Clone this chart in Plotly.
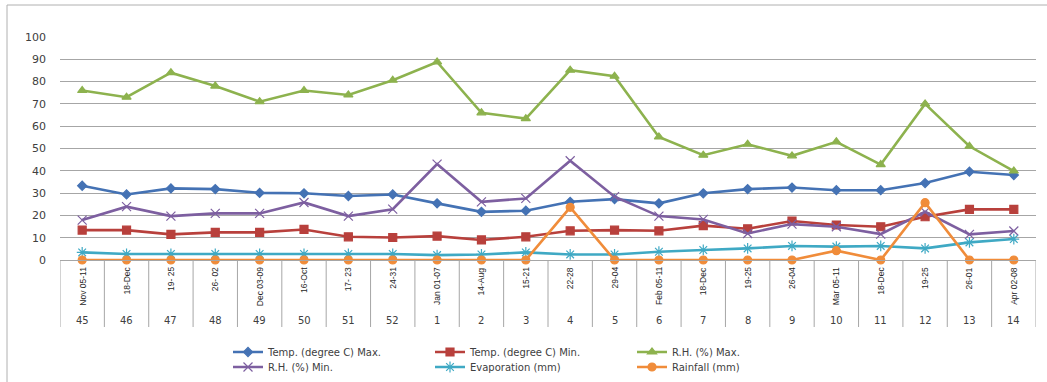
import plotly.graph_objects as go

dates = ["Nov 05-11", "18-Dec", "19- 25", "26- 02", "Dec 03-09", "16-Oct", "17- 23", "24-31",
         "Jan 01-07", "14-Aug", "15-21", "22-28", "29-04", "Feb 05-11", "18-Dec", "19-25",
         "26-04", "Mar 05-11", "18-Dec", "19-25", "26-01", "Apr 02-08"]
weeks = ["45", "46", "47", "48", "49", "50", "51", "52", "1", "2", "3", "4", "5", "6", "7",
         "8", "9", "10", "11", "12", "13", "14"]

temp_max = [33.3, 29.4, 32.1, 31.8, 30.1, 29.9, 28.7, 29.4, 25.4, 21.6, 22.1, 26.1, 27.3,
            25.4, 29.9, 31.8, 32.5, 31.3, 31.3, 34.5, 39.6, 38.1]
temp_min = [13.4, 13.4, 11.5, 12.4, 12.4, 13.7, 10.4, 10.1, 10.7, 9.0, 10.4, 13.1, 13.4,
            13.1, 15.4, 14.0, 17.5, 15.7, 14.9, 19.4, 22.7, 22.7]
rh_max = [76, 73, 84, 78, 71, 76, 74, 80.6, 88.8, 66, 63.4, 85.1, 82.4, 55.2, 47, 51.9,
          46.7, 53, 42.8, 70, 51, 39.9]
rh_min = [17.9, 23.9, 19.7, 20.9, 20.9, 25.8, 19.7, 22.8, 43, 26.1, 27.6, 44.5, 28.4,
          19.7, 18.2, 11.9, 16.1, 14.9, 11.6, 21.6, 11.5, 13.0]
evaporation = [3.4, 2.7, 2.7, 2.7, 2.7, 2.7, 2.7, 2.7, 2.2, 2.5, 3.4, 2.5, 2.5, 3.7, 4.5,
               5.2, 6.3, 6.0, 6.3, 5.2, 7.9, 9.4]
rainfall = [0, 0, 0, 0, 0, 0, 0, 0, 0, 0, 0, 23.6, 0, 0, 0, 0, 0, 4.2, 0, 25.7, 0, 0]

series = [
    ("Temp. (degree C) Max.", temp_max, "#4472B4", "diamond", 7, "legend"),
    ("Temp. (degree C) Min.", temp_min, "#B8403C", "square", 8, "legend"),
    ("R.H. (%) Max.", rh_max, "#8DB24E", "triangle-up", 8, "legend"),
    ("R.H. (%) Min.", rh_min, "#7D5FA0", "x-thin-open", 9, "legend2"),
    ("Evaporation (mm)", evaporation, "#3FA9C4", "asterisk-open", 9, "legend2"),
    ("Rainfall (mm)", rainfall, "#F08C3A", "circle", 8, "legend2"),
]

x = list(range(len(dates)))
fig = go.Figure()
for name, vals, col, sym, sz, leg in series:
    fig.add_trace(go.Scatter(
        x=x, y=vals, name=name, mode="lines+markers", legend=leg,
        line=dict(color=col, width=2.6),
        marker=dict(symbol=sym, size=sz, color=col, line=dict(color=col, width=1.2)),
        cliponaxis=False,
    ))

W, H = 1047, 382
L, R, T, B = 60, 11, 37, 122
pw, ph = W - L - R, H - T - B

def py(p):
    return (H - B - p) / ph

def px(p):
    return (p - L) / pw

shapes = []
for i in range(len(dates) + 1):
    shapes.append(dict(type="line", xref="x", yref="paper", x0=i - 0.5, x1=i - 0.5,
                       y0=0, y1=py(327), line=dict(color="#A6A6A6", width=1)))
shapes.append(dict(type="line", xref="paper", yref="paper", x0=px(7), x1=px(7),
                   y0=py(5), y1=py(382), line=dict(color="#B0B0B0", width=1)))
shapes.append(dict(type="line", xref="paper", yref="paper", x0=px(7), x1=px(1047),
                   y0=py(5), y1=py(5), line=dict(color="#B0B0B0", width=1)))

annotations = []
for i, (d, w) in enumerate(zip(dates, weeks)):
    annotations.append(dict(x=i, xref="x", y=py(265), yref="paper", text=d, textangle=-90,
                            showarrow=False, yanchor="top", xanchor="center",
                            font=dict(family="Liberation Sans", size=8.5, color="#262626")))
    annotations.append(dict(x=i, xref="x", y=py(320), yref="paper", text=w,
                            showarrow=False, yanchor="middle", xanchor="center",
                            font=dict(family="DejaVu Sans", size=10, color="#404040")))

legfont = dict(family="DejaVu Sans", size=10, color="#404040")
fig.update_layout(
    width=W, height=H,
    margin=dict(l=L, r=R, t=T, b=B, autoexpand=False),
    paper_bgcolor="white", plot_bgcolor="white",
    xaxis=dict(range=[-0.5, len(dates) - 0.5], showticklabels=False, showgrid=False,
               zeroline=False, showline=True, linecolor="#A6A6A6", linewidth=1),
    yaxis=dict(range=[0, 100], dtick=10, showgrid=True, gridcolor="#A6A6A6", gridwidth=1,
               zeroline=False, showline=False, ticklabelstandoff=13,
               tickfont=dict(family="DejaVu Sans", size=11, color="#404040")),
    shapes=shapes,
    annotations=annotations,
    legend=dict(orientation="h", x=228 / W, xref="container", y=1 - 352 / H, yref="container",
                xanchor="left", yanchor="middle",
                entrywidth=157, entrywidthmode="pixels", itemwidth=30,
                font=legfont, bgcolor="rgba(0,0,0,0)"),
    legend2=dict(orientation="h", x=228 / W, xref="container", y=1 - 367 / H, yref="container",
                 xanchor="left", yanchor="middle",
                 entrywidth=157, entrywidthmode="pixels", itemwidth=30,
                 font=legfont, bgcolor="rgba(0,0,0,0)"),
    showlegend=True,
)

fig.write_html("out.html")
